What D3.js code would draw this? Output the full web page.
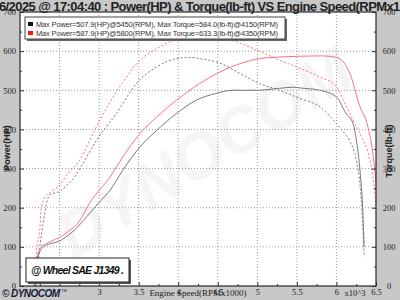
<!DOCTYPE html>
<html>
<head>
<meta charset="utf-8">
<script src="https://cdn.jsdelivr.net/npm/d3@7"></script>
<style>
  body { margin:0; background:#c8c8c8; }
  svg { display:block; }
</style>
</head>
<body>
<svg id="drawing_region"></svg>
<script>
// run 1 (black) and run 2 (red), rpm in x1000
const p1_rpm = [2.19, 2.22, 2.27, 2.32, 2.40, 2.48, 2.57, 2.69, 2.86, 3.03, 3.14, 3.30, 3.52, 3.73, 3.98, 4.23, 4.48, 4.69, 4.99, 5.28, 5.45, 5.54, 5.79, 6.00, 6.12, 6.21, 6.25, 6.30, 6.33, 6.35];
const p1_hp  = [0, 66, 95, 103, 109, 113, 124, 143, 181, 220, 245, 296, 356, 398, 441, 475, 492, 500, 500, 505, 507.9, 506, 500, 483, 441, 415, 375, 290, 205, 100];

const t1_rpm = [2.20, 2.25, 2.30, 2.34, 2.38, 2.44, 2.50, 2.57, 2.69, 2.82, 2.97, 3.22, 3.47, 3.73, 3.98, 4.15, 4.27, 4.53, 4.78, 5.03, 5.28, 5.54, 5.79, 5.96, 6.10, 6.17, 6.25, 6.30, 6.33, 6.35, 6.36];
const t1_tq  = [0, 100, 170, 215, 233, 238, 241, 253, 279, 322, 373, 441, 517, 560, 581, 584.0, 581, 569, 543, 517, 500, 479, 458, 424, 390, 370, 322, 254, 168, 83, 75];

const p2_rpm = [2.18, 2.21, 2.26, 2.32, 2.40, 2.50, 2.60, 2.75, 2.88, 3.14, 3.30, 3.52, 3.73, 3.98, 4.27, 4.53, 4.78, 5.03, 5.28, 5.54, 5.80, 6.00, 6.17, 6.29, 6.40, 6.46, 6.50, 6.52];
const p2_hp  = [0, 66, 98, 107, 115, 124, 138, 165, 212, 279, 330, 390, 432, 475, 517, 547, 568, 581, 585, 587, 587.9, 584, 543, 462, 405, 339, 262, 200];

const t2_rpm = [2.19, 2.21, 2.25, 2.27, 2.32, 2.40, 2.48, 2.61, 2.78, 2.84, 3.01, 3.26, 3.52, 3.77, 3.98, 4.35, 4.65, 4.99, 5.28, 5.54, 5.79, 6.00, 6.10, 6.22, 6.32, 6.40, 6.46, 6.50];
const t2_tq  = [0, 92, 143, 202, 228, 241, 253, 288, 330, 355, 424, 509, 577, 611, 628, 633.3, 628, 603, 577, 556, 534, 509, 470, 420, 380, 340, 280, 205];

const x_labels = [3, 3.5, 4, 4.5, 5, 5.5, 6, 6.5];
const x_grid = [2.5, 3, 3.5, 4, 4.5, 5, 5.5, 6];
const y_ticks = [0, 100, 200, 300, 400, 500, 600, 700];

const legend_texts = [
    "Max Power=507.9(HP)@5450(RPM), Max Torque=584.0(lb-ft)@4150(RPM)",
    "Max Power=587.9(HP)@5800(RPM), Max Torque=633.3(lb-ft)@4350(RPM)"
];
const title_text = "05/26/2025 @ 17:04:40 : Power(HP) & Torque(lb-ft) VS Engine Speed(RPMx1000)";

const config = {
    width: 400,
    height: 300,
    margin: {top:12, right:24, bottom:14, left:20}
};

const svg = d3.select('#drawing_region')
    .attr('width', config.width)
    .attr('height', config.height);

const inner_width = config.width - config.margin.left - config.margin.right;
const inner_height = config.height - config.margin.top - config.margin.bottom;

const xscale = d3.scaleLinear().domain([2.0, 6.5]).range([0, inner_width]);
const yscale = d3.scaleLinear().domain([0, 700]).range([inner_height, 0]);

svg.append('rect')
    .attr('width', config.width).attr('height', config.height)
    .attr('fill', '#c8c8c8');

const chart = svg.append('g')
    .attr('transform', `translate(${config.margin.left}, ${config.margin.top})`);

chart.append('rect')
    .attr('width', inner_width).attr('height', inner_height)
    .attr('fill', 'white');

chart.append('clipPath').attr('id', 'plotclip')
    .append('rect').attr('width', inner_width).attr('height', inner_height);

// watermark
chart.append('text')
    .attr('transform', `translate(${inner_width * 0.55}, ${inner_height * 0.58}) rotate(-32)`)
    .attr('text-anchor', 'middle')
    .attr('font-family', 'Liberation Sans')
    .attr('font-size', '64px')
    .attr('font-weight', 'bold')
    .attr('font-style', 'italic')
    .attr('fill', '#f5f5f5')
    .text('DYNOCOM');

// grid
chart.append('g').selectAll('line').data(x_grid).join('line')
    .attr('x1', d => xscale(d)).attr('x2', d => xscale(d))
    .attr('y1', 0).attr('y2', inner_height)
    .attr('stroke', '#9a9a9a').attr('stroke-dasharray', '1,2');
chart.append('g').selectAll('line').data(y_ticks.slice(1, -1)).join('line')
    .attr('x1', 0).attr('x2', inner_width)
    .attr('y1', d => yscale(d)).attr('y2', d => yscale(d))
    .attr('stroke', '#9a9a9a').attr('stroke-dasharray', '1,2');

// curves
const path = d3.line().x(d => xscale(d[0])).y(d => yscale(d[1])).curve(d3.curveMonotoneX);

const series = [
    {rpm: t1_rpm, val: t1_tq, color: '#6a6a6a', dash: '2,2'},
    {rpm: t2_rpm, val: t2_tq, color: '#ff6070', dash: '2,2'},
    {rpm: p1_rpm, val: p1_hp, color: '#6a6a6a', dash: null},
    {rpm: p2_rpm, val: p2_hp, color: '#ff6070', dash: null}
];
const lines_g = chart.append('g').attr('clip-path', 'url(#plotclip)');
series.forEach(s => {
    lines_g.append('path')
        .attr('d', path(d3.zip(s.rpm, s.val)))
        .attr('fill', 'none')
        .attr('stroke', s.color)
        .attr('stroke-width', 0.9)
        .attr('stroke-dasharray', s.dash);
});

// axes
const font = 'Liberation Serif';
const yaxis_left = d3.axisLeft(yscale).tickValues(y_ticks).tickSize(-4).tickPadding(4).tickSizeOuter(0);
const yl = chart.append('g').call(yaxis_left);
const yaxis_right = d3.axisRight(yscale).tickValues(y_ticks).tickSize(-4).tickPadding(13).tickSizeOuter(0);
const yr = chart.append('g').attr('transform', `translate(${inner_width}, 0)`).call(yaxis_right);
yr.selectAll('text').attr('text-anchor', 'middle');
const xaxis = d3.axisBottom(xscale).tickValues(x_labels).tickSize(-4).tickPadding(3).tickSizeOuter(0)
    .tickFormat(d => d);
const xa = chart.append('g').attr('transform', `translate(0, ${inner_height})`).call(xaxis);

// minor ticks
chart.append('g').call(d3.axisLeft(yscale).tickValues(d3.range(50, 700, 100)).tickSize(-2).tickFormat('').tickSizeOuter(0));
chart.append('g').attr('transform', `translate(${inner_width}, 0)`)
    .call(d3.axisRight(yscale).tickValues(d3.range(50, 700, 100)).tickSize(-2).tickFormat('').tickSizeOuter(0));
chart.append('g').attr('transform', `translate(0, ${inner_height})`)
    .call(d3.axisBottom(xscale).tickValues(d3.range(2.25, 6.5, 0.5)).tickSize(-2).tickFormat('').tickSizeOuter(0));
chart.append('g').attr('transform', `translate(0, ${inner_height})`)
    .call(d3.axisBottom(xscale).tickValues([2.5]).tickSize(-4).tickFormat('').tickSizeOuter(0));

[yl, yr, xa].forEach(g => {
    g.selectAll('text').attr('font-family', font).attr('font-size', '8.5px').attr('fill', '#222');
});
chart.selectAll('.domain').remove();
chart.selectAll('.tick line').attr('stroke', '#333');

chart.append('rect')
    .attr('width', inner_width).attr('height', inner_height)
    .attr('fill', 'none').attr('stroke', '#2a2a2a').attr('stroke-width', 1.2);

// axis titles
svg.append('text')
    .attr('x', 198).attr('y', 296)
    .attr('text-anchor', 'middle')
    .attr('font-family', font).attr('font-size', '9px').attr('fill', '#222')
    .text('Engine Speed(RPMx1000)');
svg.append('text')
    .attr('x', 355).attr('y', 296)
    .attr('text-anchor', 'middle')
    .attr('font-family', font).attr('font-size', '8.5px').attr('fill', '#222')
    .text('x10^3');
svg.append('text')
    .attr('transform', 'translate(10, 148) rotate(-90)')
    .attr('text-anchor', 'middle')
    .attr('font-family', 'Liberation Sans').attr('font-size', '9px').attr('font-weight', 'bold').attr('fill', '#222')
    .text('Power(HP)');
svg.append('text')
    .attr('transform', 'translate(392, 151) rotate(-90)')
    .attr('text-anchor', 'middle')
    .attr('font-family', 'Liberation Sans').attr('font-size', '9px').attr('font-weight', 'bold').attr('fill', '#222')
    .text('Torque(lb-ft)');

// title
svg.append('text')
    .attr('x', 200).attr('y', 11)
    .attr('text-anchor', 'middle')
    .attr('font-family', 'Liberation Sans').attr('font-size', '13px').attr('font-weight', 'bold')
    .attr('fill', '#222')
    .attr('textLength', 448)
    .text(title_text);

// legend
const legend = svg.append('g').attr('transform', 'translate(25, 17)');
legend.append('rect').attr('x', 2).attr('y', 2).attr('width', 260).attr('height', 22).attr('fill', '#666');
legend.append('rect').attr('width', 260).attr('height', 22).attr('fill', 'white').attr('stroke', '#444');
const legend_colors = ['#111', '#ff1010'];
legend_texts.forEach((t, i) => {
    legend.append('rect')
        .attr('x', 3).attr('y', 5 + i * 9).attr('width', 5).attr('height', 4)
        .attr('fill', legend_colors[i]);
    legend.append('text')
        .attr('x', 11).attr('y', 10 + i * 9)
        .attr('font-family', 'Liberation Sans').attr('font-size', '7.5px').attr('fill', '#333')
        .attr('textLength', 242)
        .text(t);
});

// standard box
const std = svg.append('g').attr('transform', 'translate(26, 258)');
std.append('rect').attr('x', 2).attr('y', 2).attr('width', 103).attr('height', 24).attr('fill', '#555');
std.append('rect').attr('width', 103).attr('height', 24).attr('fill', 'white').attr('stroke', '#222');
std.append('text')
    .attr('x', 5).attr('y', 16)
    .attr('font-family', 'Liberation Sans').attr('font-size', '10.5px')
    .attr('font-weight', 'bold').attr('font-style', 'italic').attr('fill', '#111')
    .attr('textLength', 93)
    .text('@ Wheel SAE J1349  .');

// logo
svg.append('text')
    .attr('x', 2).attr('y', 297)
    .attr('font-family', 'Liberation Sans').attr('font-size', '10px')
    .attr('font-weight', 'bold').attr('font-style', 'italic').attr('fill', '#14183a')
    .attr('textLength', 58)
    .text('© DYNOCOM');
svg.append('text')
    .attr('x', 61).attr('y', 292)
    .attr('font-family', 'Liberation Sans').attr('font-size', '4px').attr('fill', '#14183a')
    .text('TM');
</script>
</body>
</html>
